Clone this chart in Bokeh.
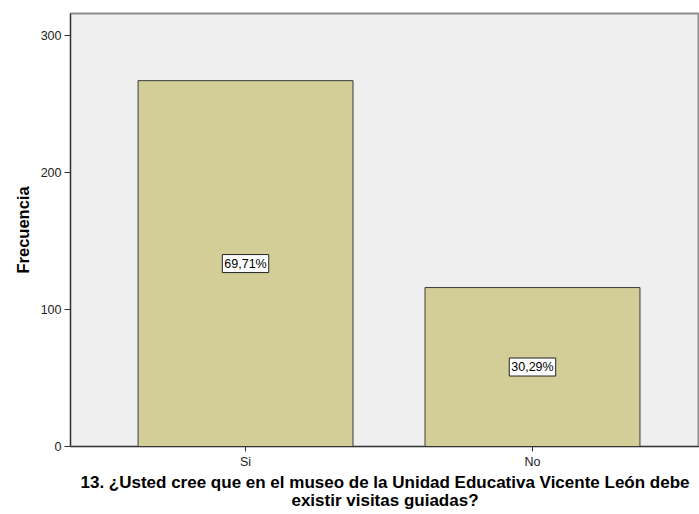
from bokeh.plotting import figure
from bokeh.models import ColumnDataSource, FixedTicker, Range1d
from bokeh.core.properties import value
from bokeh.embed import file_html
from bokeh.resources import INLINE

categories = ["Si", "No"]
counts = [267, 116]
percent_labels = ["69,71%", "30,29%"]
y_ticks = [0, 100, 200, 300]

xpos = [i + 1 for i in range(len(categories))]
source = ColumnDataSource(dict(
    x=xpos,
    top=counts,
    mid=[c / 2 for c in counts],
    lab=percent_labels,
))

FONT = "Liberation Sans"

p = figure(width=699, height=514, output_backend="svg", toolbar_location=None,
           x_range=Range1d(0.390, 2.582), y_range=Range1d(0, 316),
           min_border_left=70, min_border_right=0, min_border_top=13,
           min_border_bottom=68)

p.background_fill_color = "#efefef"
p.border_fill_color = "white"
p.outline_line_color = "#8c8c8c"
p.outline_line_width = 2
p.grid.visible = False

p.vbar(x="x", top="top", bottom=0, width=0.749, source=source,
       fill_color="#d3ce97", line_color="#3a3a3a", line_width=1)

p.text(x="x", y="mid", text="lab", source=source,
       text_align="center", text_baseline="middle",
       text_font=value(FONT), text_font_size="12.5px", text_color="black",
       text_line_height=1.1,
       background_fill_color="white", border_line_color="#222222",
       border_line_width=1, padding=2)

# y axis
p.yaxis.ticker = FixedTicker(ticks=y_ticks)
p.yaxis.minor_tick_line_color = None
p.yaxis.major_tick_out = 6
p.yaxis.major_tick_in = 0
p.yaxis.axis_line_color = "#333333"
p.yaxis.major_tick_line_color = "#333333"
p.yaxis.major_label_text_font = FONT
p.yaxis.major_label_text_font_size = "12.5px"
p.yaxis.major_label_text_color = "#222222"
p.yaxis.major_label_standoff = 3
p.yaxis.axis_label = "Frecuencia"
p.yaxis.axis_label_text_font = FONT
p.yaxis.axis_label_text_font_size = "16.5px"
p.yaxis.axis_label_text_font_style = "bold"
p.yaxis.axis_label_text_color = "black"
p.yaxis.axis_label_standoff = 6

# x axis
p.xaxis.ticker = FixedTicker(ticks=xpos)
p.xaxis.major_label_overrides = {x: c for x, c in zip(xpos, categories)}
p.xaxis.minor_tick_line_color = None
p.xaxis.major_tick_out = 5
p.xaxis.major_tick_in = 0
p.xaxis.axis_line_color = "#333333"
p.xaxis.major_tick_line_color = "#333333"
p.xaxis.major_label_text_font = FONT
p.xaxis.major_label_text_font_size = "12.5px"
p.xaxis.major_label_text_color = "#222222"
p.xaxis.major_label_standoff = 3
p.xaxis.axis_label = ("13. ¿Usted cree que en el museo de la Unidad Educativa Vicente León debe\n"
                      "existir visitas guiadas?")
p.xaxis.axis_label_text_font = FONT
p.xaxis.axis_label_text_font_size = "17px"
p.xaxis.axis_label_text_font_style = "bold"
p.xaxis.axis_label_text_color = "black"
p.xaxis.axis_label_text_line_height = 0.95
p.xaxis.axis_label_standoff = 1

open("out.html", "w").write(file_html(p, INLINE))
